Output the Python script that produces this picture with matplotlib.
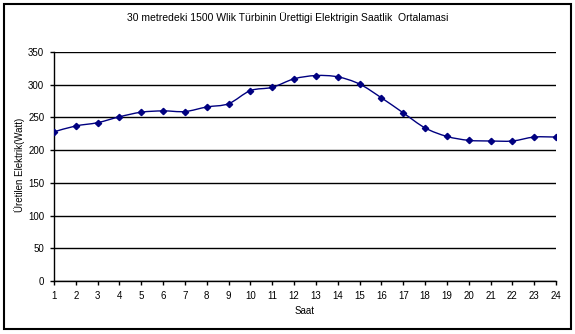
import numpy as np
import matplotlib.pyplot as plt
from matplotlib.path import Path
from matplotlib.patches import PathPatch, Rectangle

plt.rcParams['font.family'] = ['Liberation Sans', 'DejaVu Sans']

# hourly average output (W) of the 1500 W turbine at 30 m
hours = list(range(1, 25))
power = [228, 237, 242, 251, 258, 260, 259, 266, 271, 291, 296, 309,
         314, 312, 301, 280, 257, 234, 221, 215, 214, 214, 220, 220]
y_ticks = [0, 50, 100, 150, 200, 250, 300, 350]

title = "30 metredeki 1500 Wlik Türbinin Ürettigi Elektrigin Saatlik  Ortalamasi"
x_label = "Saat"
y_label = "Üretilen Elektrik(Watt)"

navy = "#000080"

fig = plt.figure(figsize=(5.75, 3.34), dpi=100)
ax = fig.add_axes([54 / 575, 1 - 281 / 334, 502 / 575, 229 / 334])


def smooth_path(x, y, t=1 / 6):
    # cubic bezier through every point (Catmull-Rom style control points)
    x = np.asarray(x, float)
    y = np.asarray(y, float)
    verts = [(x[0], y[0])]
    codes = [Path.MOVETO]
    n = len(x)
    for i in range(n - 1):
        p0 = i - 1 if i > 0 else i
        p3 = i + 2 if i + 2 < n else i + 1
        c1 = (x[i] + (x[i + 1] - x[p0]) * t, y[i] + (y[i + 1] - y[p0]) * t)
        c2 = (x[i + 1] - (x[p3] - x[i]) * t, y[i + 1] - (y[p3] - y[i]) * t)
        verts += [c1, c2, (x[i + 1], y[i + 1])]
        codes += [Path.CURVE4] * 3
    return Path(verts, codes)


ax.add_patch(PathPatch(smooth_path(hours, power), facecolor="none",
                       edgecolor=navy, lw=1.0, zorder=3))
ax.plot(hours, power, linestyle="none", marker="D", ms=3.2,
        color=navy, zorder=4)

ax.set_xlim(1, 24)
ax.set_ylim(0, 350)
ax.set_xticks(hours)
ax.set_yticks(y_ticks)
ax.yaxis.grid(True, color="black", lw=1.0)
ax.set_axisbelow(True)
for side in ("top", "right"):
    ax.spines[side].set_visible(False)
for side in ("left", "bottom"):
    ax.spines[side].set_linewidth(1.0)
ax.tick_params(labelsize=7, length=3, width=1.0, pad=4, direction="out")

ax.set_xlabel(x_label, fontsize=7)
ax.set_ylabel(y_label, fontsize=7)
ax.xaxis.set_label_coords(0.5, -(311 - 281) / 229, transform=ax.transAxes)
ax.yaxis.set_label_coords(-(54 - 20) / 502, (281 - 165) / 229, transform=ax.transAxes)
ax.xaxis.label.set_va("center")
ax.yaxis.label.set_va("center")
fig.text(0.5, 1 - 18 / 334, title, ha="center", va="center", fontsize=7.5)

# outer chart frame
fig.patches.append(Rectangle((4 / 575, 1 - 329 / 334), 566.5 / 575, 325 / 334,
                             transform=fig.transFigure, fill=False,
                             edgecolor="black", lw=1.5))

fig.savefig("out.png", dpi=100)
